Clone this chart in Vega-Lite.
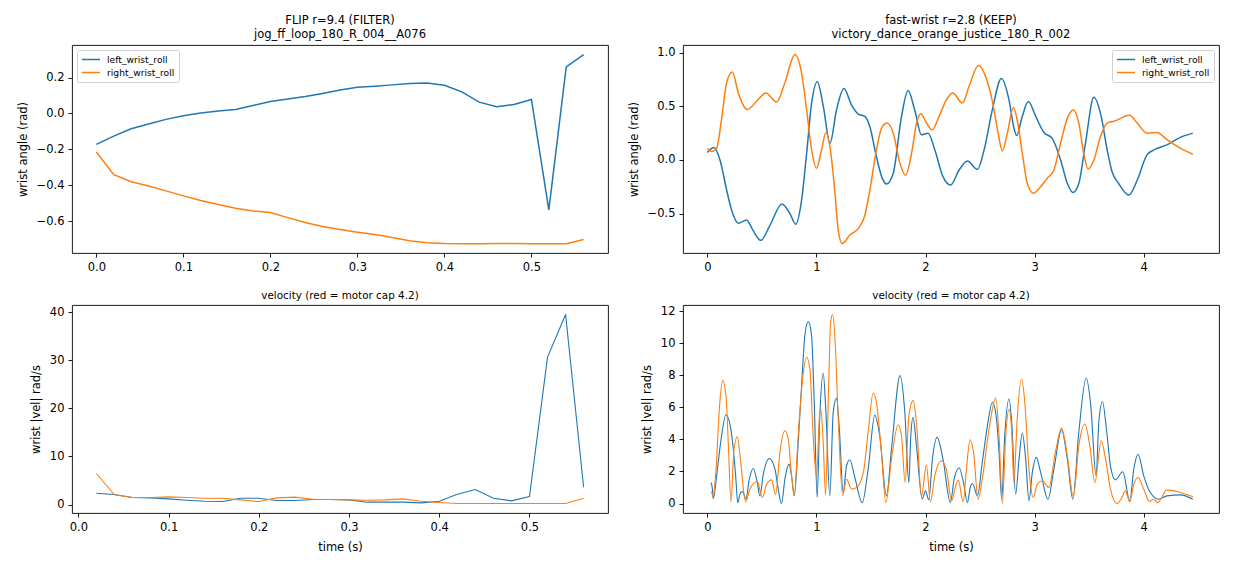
{
  "$schema": "https://vega.github.io/schema/vega-lite/v6.json",
  "background": "white",
  "padding": {"left": 16, "top": 14, "right": 14, "bottom": 10},
  "config": {
    "font": "DejaVu Sans",
    "view": {"stroke": "#000000", "strokeWidth": 0.9},
    "axis": {
      "grid": false, "domain": false,
      "tickColor": "#000000", "tickSize": 4, "tickWidth": 0.9,
      "labelColor": "#000000", "labelFontSize": 11.5, "labelPadding": 4,
      "labelFlush": false, "labelOverlap": false,
      "titleFontSize": 11.5, "titleFontWeight": "normal", "titleColor": "#000000", "titlePadding": 8
    },
    "axisX": {"titlePadding": 9},
    "title": {"fontSize": 11.5, "fontWeight": "normal", "color": "#000000", "anchor": "middle", "lineHeight": 14, "offset": 5},
    "legend": {
      "offset": 5, "padding": 4, "labelFontSize": 9.2, "labelColor": "#000000",
      "symbolType": "stroke", "symbolSize": 324, "symbolStrokeWidth": 1.7,
      "strokeColor": "#d0d0d0", "fillColor": "rgba(255,255,255,0.8)", "cornerRadius": 2,
      "rowPadding": 2, "clipHeight": 11, "labelOffset": 6, "title": null
    }
  },
  "datasets": {
    "flip_pos": [
      {"t": 0.00, "left_wrist_roll": -0.172, "right_wrist_roll": -0.215},
      {"t": 0.02, "left_wrist_roll": -0.126, "right_wrist_roll": -0.341},
      {"t": 0.04, "left_wrist_roll": -0.085, "right_wrist_roll": -0.380},
      {"t": 0.06, "left_wrist_roll": -0.059, "right_wrist_roll": -0.404},
      {"t": 0.08, "left_wrist_roll": -0.033, "right_wrist_roll": -0.431},
      {"t": 0.10, "left_wrist_roll": -0.013, "right_wrist_roll": -0.459},
      {"t": 0.12, "left_wrist_roll": 0.002, "right_wrist_roll": -0.485},
      {"t": 0.14, "left_wrist_roll": 0.013, "right_wrist_roll": -0.507},
      {"t": 0.16, "left_wrist_roll": 0.022, "right_wrist_roll": -0.528},
      {"t": 0.18, "left_wrist_roll": 0.044, "right_wrist_roll": -0.543},
      {"t": 0.20, "left_wrist_roll": 0.067, "right_wrist_roll": -0.552},
      {"t": 0.22, "left_wrist_roll": 0.081, "right_wrist_roll": -0.580},
      {"t": 0.24, "left_wrist_roll": 0.094, "right_wrist_roll": -0.607},
      {"t": 0.26, "left_wrist_roll": 0.111, "right_wrist_roll": -0.630},
      {"t": 0.28, "left_wrist_roll": 0.130, "right_wrist_roll": -0.646},
      {"t": 0.30, "left_wrist_roll": 0.146, "right_wrist_roll": -0.661},
      {"t": 0.32, "left_wrist_roll": 0.152, "right_wrist_roll": -0.674},
      {"t": 0.34, "left_wrist_roll": 0.159, "right_wrist_roll": -0.691},
      {"t": 0.36, "left_wrist_roll": 0.167, "right_wrist_roll": -0.709},
      {"t": 0.38, "left_wrist_roll": 0.169, "right_wrist_roll": -0.720},
      {"t": 0.40, "left_wrist_roll": 0.157, "right_wrist_roll": -0.724},
      {"t": 0.42, "left_wrist_roll": 0.120, "right_wrist_roll": -0.725},
      {"t": 0.44, "left_wrist_roll": 0.063, "right_wrist_roll": -0.725},
      {"t": 0.46, "left_wrist_roll": 0.037, "right_wrist_roll": -0.724},
      {"t": 0.48, "left_wrist_roll": 0.050, "right_wrist_roll": -0.724},
      {"t": 0.50, "left_wrist_roll": 0.078, "right_wrist_roll": -0.725},
      {"t": 0.52, "left_wrist_roll": -0.537, "right_wrist_roll": -0.725},
      {"t": 0.54, "left_wrist_roll": 0.259, "right_wrist_roll": -0.725},
      {"t": 0.56, "left_wrist_roll": 0.328, "right_wrist_roll": -0.702}
    ],
    "flip_vel": [
      {"t": 0.02, "left_wrist_roll": 2.36, "right_wrist_roll": 6.45},
      {"t": 0.04, "left_wrist_roll": 2.08, "right_wrist_roll": 2.01},
      {"t": 0.06, "left_wrist_roll": 1.46, "right_wrist_roll": 1.46},
      {"t": 0.08, "left_wrist_roll": 1.39, "right_wrist_roll": 1.46},
      {"t": 0.10, "left_wrist_roll": 1.18, "right_wrist_roll": 1.60},
      {"t": 0.12, "left_wrist_roll": 0.90, "right_wrist_roll": 1.46},
      {"t": 0.14, "left_wrist_roll": 0.69, "right_wrist_roll": 1.32},
      {"t": 0.16, "left_wrist_roll": 0.62, "right_wrist_roll": 1.32},
      {"t": 0.18, "left_wrist_roll": 1.32, "right_wrist_roll": 0.97},
      {"t": 0.20, "left_wrist_roll": 1.32, "right_wrist_roll": 0.62},
      {"t": 0.22, "left_wrist_roll": 0.83, "right_wrist_roll": 1.39},
      {"t": 0.24, "left_wrist_roll": 0.83, "right_wrist_roll": 1.53},
      {"t": 0.26, "left_wrist_roll": 1.04, "right_wrist_roll": 1.11},
      {"t": 0.28, "left_wrist_roll": 1.04, "right_wrist_roll": 1.04},
      {"t": 0.30, "left_wrist_roll": 0.97, "right_wrist_roll": 0.97},
      {"t": 0.32, "left_wrist_roll": 0.49, "right_wrist_roll": 0.90},
      {"t": 0.34, "left_wrist_roll": 0.49, "right_wrist_roll": 0.97},
      {"t": 0.36, "left_wrist_roll": 0.49, "right_wrist_roll": 1.18},
      {"t": 0.38, "left_wrist_roll": 0.35, "right_wrist_roll": 0.69},
      {"t": 0.40, "left_wrist_roll": 0.69, "right_wrist_roll": 0.42},
      {"t": 0.42, "left_wrist_roll": 2.15, "right_wrist_roll": 0.21},
      {"t": 0.44, "left_wrist_roll": 3.12, "right_wrist_roll": 0.21},
      {"t": 0.46, "left_wrist_roll": 1.32, "right_wrist_roll": 0.21},
      {"t": 0.48, "left_wrist_roll": 0.76, "right_wrist_roll": 0.21},
      {"t": 0.50, "left_wrist_roll": 1.66, "right_wrist_roll": 0.21},
      {"t": 0.52, "left_wrist_roll": 30.65, "right_wrist_roll": 0.21},
      {"t": 0.54, "left_wrist_roll": 39.5, "right_wrist_roll": 0.21},
      {"t": 0.56, "left_wrist_roll": 3.6, "right_wrist_roll": 1.32}
    ],
    "fast_pos": [
      {"t": 0, "joint": "left_wrist_roll", "v": 0.069},
      {"t": 0.06, "joint": "left_wrist_roll", "v": 0.116},
      {"t": 0.116, "joint": "left_wrist_roll", "v": 0.0},
      {"t": 0.177, "joint": "left_wrist_roll", "v": -0.28},
      {"t": 0.223, "joint": "left_wrist_roll", "v": -0.47},
      {"t": 0.284, "joint": "left_wrist_roll", "v": -0.59},
      {"t": 0.36, "joint": "left_wrist_roll", "v": -0.56},
      {"t": 0.42, "joint": "left_wrist_roll", "v": -0.66},
      {"t": 0.49, "joint": "left_wrist_roll", "v": -0.75},
      {"t": 0.574, "joint": "left_wrist_roll", "v": -0.61},
      {"t": 0.684, "joint": "left_wrist_roll", "v": -0.41},
      {"t": 0.757, "joint": "left_wrist_roll", "v": -0.5},
      {"t": 0.81, "joint": "left_wrist_roll", "v": -0.6},
      {"t": 0.864, "joint": "left_wrist_roll", "v": -0.375},
      {"t": 0.91, "joint": "left_wrist_roll", "v": 0.06},
      {"t": 0.956, "joint": "left_wrist_roll", "v": 0.53},
      {"t": 1.008, "joint": "left_wrist_roll", "v": 0.73},
      {"t": 1.063, "joint": "left_wrist_roll", "v": 0.5},
      {"t": 1.124, "joint": "left_wrist_roll", "v": 0.156},
      {"t": 1.185, "joint": "left_wrist_roll", "v": 0.47},
      {"t": 1.252, "joint": "left_wrist_roll", "v": 0.666},
      {"t": 1.32, "joint": "left_wrist_roll", "v": 0.516},
      {"t": 1.383, "joint": "left_wrist_roll", "v": 0.428},
      {"t": 1.444, "joint": "left_wrist_roll", "v": 0.406},
      {"t": 1.49, "joint": "left_wrist_roll", "v": 0.31},
      {"t": 1.55, "joint": "left_wrist_roll", "v": 0.03},
      {"t": 1.603, "joint": "left_wrist_roll", "v": -0.17},
      {"t": 1.643, "joint": "left_wrist_roll", "v": -0.225},
      {"t": 1.704, "joint": "left_wrist_roll", "v": -0.125},
      {"t": 1.78, "joint": "left_wrist_roll", "v": 0.406},
      {"t": 1.84, "joint": "left_wrist_roll", "v": 0.647},
      {"t": 1.9, "joint": "left_wrist_roll", "v": 0.47},
      {"t": 1.963, "joint": "left_wrist_roll", "v": 0.234},
      {"t": 2.024, "joint": "left_wrist_roll", "v": 0.25},
      {"t": 2.085, "joint": "left_wrist_roll", "v": 0.094},
      {"t": 2.16, "joint": "left_wrist_roll", "v": -0.156},
      {"t": 2.23, "joint": "left_wrist_roll", "v": -0.234},
      {"t": 2.308, "joint": "left_wrist_roll", "v": -0.094},
      {"t": 2.384, "joint": "left_wrist_roll", "v": -0.01},
      {"t": 2.476, "joint": "left_wrist_roll", "v": -0.0875},
      {"t": 2.537, "joint": "left_wrist_roll", "v": 0.094},
      {"t": 2.613, "joint": "left_wrist_roll", "v": 0.47},
      {"t": 2.695, "joint": "left_wrist_roll", "v": 0.76},
      {"t": 2.765, "joint": "left_wrist_roll", "v": 0.56},
      {"t": 2.81, "joint": "left_wrist_roll", "v": 0.3},
      {"t": 2.835, "joint": "left_wrist_roll", "v": 0.228},
      {"t": 2.887, "joint": "left_wrist_roll", "v": 0.406},
      {"t": 2.942, "joint": "left_wrist_roll", "v": 0.544},
      {"t": 3.01, "joint": "left_wrist_roll", "v": 0.406},
      {"t": 3.085, "joint": "left_wrist_roll", "v": 0.256},
      {"t": 3.16, "joint": "left_wrist_roll", "v": 0.203},
      {"t": 3.238, "joint": "left_wrist_roll", "v": 0.0},
      {"t": 3.3, "joint": "left_wrist_roll", "v": -0.219},
      {"t": 3.35, "joint": "left_wrist_roll", "v": -0.303},
      {"t": 3.405, "joint": "left_wrist_roll", "v": -0.219},
      {"t": 3.466, "joint": "left_wrist_roll", "v": 0.156},
      {"t": 3.543, "joint": "left_wrist_roll", "v": 0.584},
      {"t": 3.61, "joint": "left_wrist_roll", "v": 0.406},
      {"t": 3.665, "joint": "left_wrist_roll", "v": 0.094},
      {"t": 3.71, "joint": "left_wrist_roll", "v": -0.11},
      {"t": 3.77, "joint": "left_wrist_roll", "v": -0.22},
      {"t": 3.863, "joint": "left_wrist_roll", "v": -0.328},
      {"t": 3.94, "joint": "left_wrist_roll", "v": -0.19},
      {"t": 4.03, "joint": "left_wrist_roll", "v": 0.047},
      {"t": 4.107, "joint": "left_wrist_roll", "v": 0.1},
      {"t": 4.213, "joint": "left_wrist_roll", "v": 0.14},
      {"t": 4.335, "joint": "left_wrist_roll", "v": 0.21},
      {"t": 4.45, "joint": "left_wrist_roll", "v": 0.25},
      {"t": 0, "joint": "right_wrist_roll", "v": 0.106},
      {"t": 0.04, "joint": "right_wrist_roll", "v": 0.078},
      {"t": 0.085, "joint": "right_wrist_roll", "v": 0.11},
      {"t": 0.13, "joint": "right_wrist_roll", "v": 0.375},
      {"t": 0.177, "joint": "right_wrist_roll", "v": 0.72},
      {"t": 0.229, "joint": "right_wrist_roll", "v": 0.82},
      {"t": 0.284, "joint": "right_wrist_roll", "v": 0.625},
      {"t": 0.366, "joint": "right_wrist_roll", "v": 0.47},
      {"t": 0.452, "joint": "right_wrist_roll", "v": 0.547},
      {"t": 0.537, "joint": "right_wrist_roll", "v": 0.625},
      {"t": 0.635, "joint": "right_wrist_roll", "v": 0.54},
      {"t": 0.711, "joint": "right_wrist_roll", "v": 0.72},
      {"t": 0.803, "joint": "right_wrist_roll", "v": 0.984},
      {"t": 0.864, "joint": "right_wrist_roll", "v": 0.81},
      {"t": 0.91, "joint": "right_wrist_roll", "v": 0.47},
      {"t": 0.956, "joint": "right_wrist_roll", "v": 0.094},
      {"t": 1.0, "joint": "right_wrist_roll", "v": -0.078},
      {"t": 1.047, "joint": "right_wrist_roll", "v": 0.094},
      {"t": 1.087, "joint": "right_wrist_roll", "v": 0.256},
      {"t": 1.124, "joint": "right_wrist_roll", "v": 0.125},
      {"t": 1.17, "joint": "right_wrist_roll", "v": -0.31},
      {"t": 1.2, "joint": "right_wrist_roll", "v": -0.656},
      {"t": 1.237, "joint": "right_wrist_roll", "v": -0.78},
      {"t": 1.307, "joint": "right_wrist_roll", "v": -0.7},
      {"t": 1.383, "joint": "right_wrist_roll", "v": -0.64},
      {"t": 1.444, "joint": "right_wrist_roll", "v": -0.516},
      {"t": 1.49, "joint": "right_wrist_roll", "v": -0.28},
      {"t": 1.55, "joint": "right_wrist_roll", "v": 0.094},
      {"t": 1.597, "joint": "right_wrist_roll", "v": 0.297},
      {"t": 1.649, "joint": "right_wrist_roll", "v": 0.344},
      {"t": 1.704, "joint": "right_wrist_roll", "v": 0.25},
      {"t": 1.765, "joint": "right_wrist_roll", "v": -0.03},
      {"t": 1.817, "joint": "right_wrist_roll", "v": -0.144},
      {"t": 1.872, "joint": "right_wrist_roll", "v": 0.0625},
      {"t": 1.918, "joint": "right_wrist_roll", "v": 0.344},
      {"t": 1.957, "joint": "right_wrist_roll", "v": 0.43},
      {"t": 2.01, "joint": "right_wrist_roll", "v": 0.344},
      {"t": 2.06, "joint": "right_wrist_roll", "v": 0.28},
      {"t": 2.13, "joint": "right_wrist_roll", "v": 0.42},
      {"t": 2.19, "joint": "right_wrist_roll", "v": 0.56},
      {"t": 2.25, "joint": "right_wrist_roll", "v": 0.625},
      {"t": 2.338, "joint": "right_wrist_roll", "v": 0.53},
      {"t": 2.4, "joint": "right_wrist_roll", "v": 0.69},
      {"t": 2.485, "joint": "right_wrist_roll", "v": 0.88},
      {"t": 2.55, "joint": "right_wrist_roll", "v": 0.78},
      {"t": 2.613, "joint": "right_wrist_roll", "v": 0.547},
      {"t": 2.66, "joint": "right_wrist_roll", "v": 0.28},
      {"t": 2.704, "joint": "right_wrist_roll", "v": 0.084},
      {"t": 2.75, "joint": "right_wrist_roll", "v": 0.25},
      {"t": 2.805, "joint": "right_wrist_roll", "v": 0.49},
      {"t": 2.84, "joint": "right_wrist_roll", "v": 0.375},
      {"t": 2.887, "joint": "right_wrist_roll", "v": 0.0625},
      {"t": 2.933, "joint": "right_wrist_roll", "v": -0.22},
      {"t": 2.988, "joint": "right_wrist_roll", "v": -0.31},
      {"t": 3.055, "joint": "right_wrist_roll", "v": -0.25},
      {"t": 3.116, "joint": "right_wrist_roll", "v": -0.17},
      {"t": 3.177, "joint": "right_wrist_roll", "v": -0.094},
      {"t": 3.238, "joint": "right_wrist_roll", "v": 0.156},
      {"t": 3.3, "joint": "right_wrist_roll", "v": 0.39},
      {"t": 3.354, "joint": "right_wrist_roll", "v": 0.466},
      {"t": 3.405, "joint": "right_wrist_roll", "v": 0.344},
      {"t": 3.45, "joint": "right_wrist_roll", "v": 0.0625},
      {"t": 3.49, "joint": "right_wrist_roll", "v": -0.084},
      {"t": 3.543, "joint": "right_wrist_roll", "v": 0.0},
      {"t": 3.604, "joint": "right_wrist_roll", "v": 0.22},
      {"t": 3.665, "joint": "right_wrist_roll", "v": 0.344},
      {"t": 3.726, "joint": "right_wrist_roll", "v": 0.36},
      {"t": 3.872, "joint": "right_wrist_roll", "v": 0.416},
      {"t": 3.94, "joint": "right_wrist_roll", "v": 0.344},
      {"t": 4.03, "joint": "right_wrist_roll", "v": 0.25},
      {"t": 4.12, "joint": "right_wrist_roll", "v": 0.256},
      {"t": 4.213, "joint": "right_wrist_roll", "v": 0.19},
      {"t": 4.335, "joint": "right_wrist_roll", "v": 0.11},
      {"t": 4.45, "joint": "right_wrist_roll", "v": 0.053}
    ],
    "fast_vel": [
      {"t": 0.033, "joint": "left_wrist_roll", "v": 1.31},
      {"t": 0.045, "joint": "left_wrist_roll", "v": 1.0},
      {"t": 0.055, "joint": "left_wrist_roll", "v": 0.31},
      {"t": 0.085, "joint": "left_wrist_roll", "v": 1.73},
      {"t": 0.122, "joint": "left_wrist_roll", "v": 3.8},
      {"t": 0.171, "joint": "left_wrist_roll", "v": 5.54},
      {"t": 0.21, "joint": "left_wrist_roll", "v": 4.85},
      {"t": 0.238, "joint": "left_wrist_roll", "v": 3.4},
      {"t": 0.262, "joint": "left_wrist_roll", "v": 1.52},
      {"t": 0.278, "joint": "left_wrist_roll", "v": 0.06},
      {"t": 0.305, "joint": "left_wrist_roll", "v": 0.69},
      {"t": 0.325, "joint": "left_wrist_roll", "v": 0.73},
      {"t": 0.354, "joint": "left_wrist_roll", "v": 0.27},
      {"t": 0.385, "joint": "left_wrist_roll", "v": 1.52},
      {"t": 0.421, "joint": "left_wrist_roll", "v": 2.19},
      {"t": 0.458, "joint": "left_wrist_roll", "v": 1.31},
      {"t": 0.482, "joint": "left_wrist_roll", "v": 0.48},
      {"t": 0.513, "joint": "left_wrist_roll", "v": 1.83},
      {"t": 0.568, "joint": "left_wrist_roll", "v": 2.81},
      {"t": 0.62, "joint": "left_wrist_roll", "v": 2.15},
      {"t": 0.65, "joint": "left_wrist_roll", "v": 0.9},
      {"t": 0.68, "joint": "left_wrist_roll", "v": 0.0},
      {"t": 0.711, "joint": "left_wrist_roll", "v": 1.52},
      {"t": 0.748, "joint": "left_wrist_roll", "v": 2.46},
      {"t": 0.772, "joint": "left_wrist_roll", "v": 1.73},
      {"t": 0.797, "joint": "left_wrist_roll", "v": 0.48},
      {"t": 0.833, "joint": "left_wrist_roll", "v": 3.8},
      {"t": 0.864, "joint": "left_wrist_roll", "v": 7.35},
      {"t": 0.894, "joint": "left_wrist_roll", "v": 10.5},
      {"t": 0.925, "joint": "left_wrist_roll", "v": 11.35},
      {"t": 0.955, "joint": "left_wrist_roll", "v": 10.5},
      {"t": 0.98, "joint": "left_wrist_roll", "v": 6.3},
      {"t": 1.007, "joint": "left_wrist_roll", "v": 0.375},
      {"t": 1.03, "joint": "left_wrist_roll", "v": 5.3},
      {"t": 1.062, "joint": "left_wrist_roll", "v": 8.15},
      {"t": 1.087, "joint": "left_wrist_roll", "v": 5.7},
      {"t": 1.123, "joint": "left_wrist_roll", "v": 0.48},
      {"t": 1.154, "joint": "left_wrist_roll", "v": 5.7},
      {"t": 1.184, "joint": "left_wrist_roll", "v": 6.56},
      {"t": 1.21, "joint": "left_wrist_roll", "v": 4.65},
      {"t": 1.245, "joint": "left_wrist_roll", "v": 0.69},
      {"t": 1.276, "joint": "left_wrist_roll", "v": 2.35},
      {"t": 1.306, "joint": "left_wrist_roll", "v": 2.73},
      {"t": 1.352, "joint": "left_wrist_roll", "v": 1.63},
      {"t": 1.42, "joint": "left_wrist_roll", "v": 0.06},
      {"t": 1.474, "joint": "left_wrist_roll", "v": 2.15},
      {"t": 1.535, "joint": "left_wrist_roll", "v": 5.52},
      {"t": 1.58, "joint": "left_wrist_roll", "v": 4.23},
      {"t": 1.642, "joint": "left_wrist_roll", "v": 0.48},
      {"t": 1.688, "joint": "left_wrist_roll", "v": 3.4},
      {"t": 1.767, "joint": "left_wrist_roll", "v": 7.98},
      {"t": 1.81, "joint": "left_wrist_roll", "v": 5.7},
      {"t": 1.847, "joint": "left_wrist_roll", "v": 1.31},
      {"t": 1.865, "joint": "left_wrist_roll", "v": 4.23},
      {"t": 1.886, "joint": "left_wrist_roll", "v": 5.38},
      {"t": 1.917, "joint": "left_wrist_roll", "v": 3.6},
      {"t": 1.969, "joint": "left_wrist_roll", "v": 0.27},
      {"t": 2.0, "joint": "left_wrist_roll", "v": 0.79},
      {"t": 2.03, "joint": "left_wrist_roll", "v": 0.23},
      {"t": 2.063, "joint": "left_wrist_roll", "v": 2.77},
      {"t": 2.106, "joint": "left_wrist_roll", "v": 4.13},
      {"t": 2.16, "joint": "left_wrist_roll", "v": 2.77},
      {"t": 2.228, "joint": "left_wrist_roll", "v": 0.06},
      {"t": 2.262, "joint": "left_wrist_roll", "v": 1.52},
      {"t": 2.308, "joint": "left_wrist_roll", "v": 2.23},
      {"t": 2.348, "joint": "left_wrist_roll", "v": 1.31},
      {"t": 2.384, "joint": "left_wrist_roll", "v": 0.06},
      {"t": 2.41, "joint": "left_wrist_roll", "v": 1.0},
      {"t": 2.43, "joint": "left_wrist_roll", "v": 1.25},
      {"t": 2.476, "joint": "left_wrist_roll", "v": 0.48},
      {"t": 2.52, "joint": "left_wrist_roll", "v": 2.56},
      {"t": 2.567, "joint": "left_wrist_roll", "v": 4.85},
      {"t": 2.613, "joint": "left_wrist_roll", "v": 6.31},
      {"t": 2.643, "joint": "left_wrist_roll", "v": 5.69},
      {"t": 2.674, "joint": "left_wrist_roll", "v": 3.19},
      {"t": 2.698, "joint": "left_wrist_roll", "v": 0.27},
      {"t": 2.726, "joint": "left_wrist_roll", "v": 4.23},
      {"t": 2.765, "joint": "left_wrist_roll", "v": 6.52},
      {"t": 2.79, "joint": "left_wrist_roll", "v": 5.06},
      {"t": 2.826, "joint": "left_wrist_roll", "v": 0.58},
      {"t": 2.857, "joint": "left_wrist_roll", "v": 2.77},
      {"t": 2.887, "joint": "left_wrist_roll", "v": 4.4},
      {"t": 2.918, "joint": "left_wrist_roll", "v": 2.77},
      {"t": 2.948, "joint": "left_wrist_roll", "v": 0.17},
      {"t": 2.979, "joint": "left_wrist_roll", "v": 1.94},
      {"t": 3.015, "joint": "left_wrist_roll", "v": 2.88},
      {"t": 3.055, "joint": "left_wrist_roll", "v": 1.94},
      {"t": 3.122, "joint": "left_wrist_roll", "v": 0.27},
      {"t": 3.177, "joint": "left_wrist_roll", "v": 2.15},
      {"t": 3.247, "joint": "left_wrist_roll", "v": 4.6},
      {"t": 3.3, "joint": "left_wrist_roll", "v": 2.77},
      {"t": 3.35, "joint": "left_wrist_roll", "v": 0.27},
      {"t": 3.405, "joint": "left_wrist_roll", "v": 4.44},
      {"t": 3.473, "joint": "left_wrist_roll", "v": 7.83},
      {"t": 3.512, "joint": "left_wrist_roll", "v": 6.31},
      {"t": 3.564, "joint": "left_wrist_roll", "v": 1.73},
      {"t": 3.588, "joint": "left_wrist_roll", "v": 5.06},
      {"t": 3.622, "joint": "left_wrist_roll", "v": 6.35},
      {"t": 3.658, "joint": "left_wrist_roll", "v": 4.65},
      {"t": 3.695, "joint": "left_wrist_roll", "v": 2.35},
      {"t": 3.74, "joint": "left_wrist_roll", "v": 1.48},
      {"t": 3.808, "joint": "left_wrist_roll", "v": 1.98},
      {"t": 3.872, "joint": "left_wrist_roll", "v": 0.17},
      {"t": 3.909, "joint": "left_wrist_roll", "v": 2.15},
      {"t": 3.948, "joint": "left_wrist_roll", "v": 3.08},
      {"t": 4.0, "joint": "left_wrist_roll", "v": 1.73},
      {"t": 4.06, "joint": "left_wrist_roll", "v": 0.69},
      {"t": 4.137, "joint": "left_wrist_roll", "v": 0.27},
      {"t": 4.213, "joint": "left_wrist_roll", "v": 0.48},
      {"t": 4.335, "joint": "left_wrist_roll", "v": 0.54},
      {"t": 4.451, "joint": "left_wrist_roll", "v": 0.27},
      {"t": 0.033, "joint": "right_wrist_roll", "v": 0.73},
      {"t": 0.043, "joint": "right_wrist_roll", "v": 0.65},
      {"t": 0.05, "joint": "right_wrist_roll", "v": 0.375},
      {"t": 0.08, "joint": "right_wrist_roll", "v": 2.15},
      {"t": 0.11, "joint": "right_wrist_roll", "v": 5.9},
      {"t": 0.14, "joint": "right_wrist_roll", "v": 7.67},
      {"t": 0.171, "joint": "right_wrist_roll", "v": 6.73},
      {"t": 0.192, "joint": "right_wrist_roll", "v": 3.81},
      {"t": 0.217, "joint": "right_wrist_roll", "v": 0.1},
      {"t": 0.244, "joint": "right_wrist_roll", "v": 3.4},
      {"t": 0.275, "joint": "right_wrist_roll", "v": 4.17},
      {"t": 0.3, "joint": "right_wrist_roll", "v": 2.98},
      {"t": 0.351, "joint": "right_wrist_roll", "v": 0.1},
      {"t": 0.39, "joint": "right_wrist_roll", "v": 0.9},
      {"t": 0.458, "joint": "right_wrist_roll", "v": 1.38},
      {"t": 0.504, "joint": "right_wrist_roll", "v": 0.375},
      {"t": 0.543, "joint": "right_wrist_roll", "v": 1.21},
      {"t": 0.589, "joint": "right_wrist_roll", "v": 1.48},
      {"t": 0.626, "joint": "right_wrist_roll", "v": 0.56},
      {"t": 0.665, "joint": "right_wrist_roll", "v": 3.19},
      {"t": 0.711, "joint": "right_wrist_roll", "v": 4.54},
      {"t": 0.742, "joint": "right_wrist_roll", "v": 4.02},
      {"t": 0.772, "joint": "right_wrist_roll", "v": 1.73},
      {"t": 0.797, "joint": "right_wrist_roll", "v": 0.52},
      {"t": 0.833, "joint": "right_wrist_roll", "v": 4.23},
      {"t": 0.873, "joint": "right_wrist_roll", "v": 7.77},
      {"t": 0.91, "joint": "right_wrist_roll", "v": 9.13},
      {"t": 0.94, "joint": "right_wrist_roll", "v": 8.4},
      {"t": 0.97, "joint": "right_wrist_roll", "v": 4.23},
      {"t": 1.0, "joint": "right_wrist_roll", "v": 1.73},
      {"t": 1.031, "joint": "right_wrist_roll", "v": 5.69},
      {"t": 1.04, "joint": "right_wrist_roll", "v": 5.9},
      {"t": 1.062, "joint": "right_wrist_roll", "v": 3.81},
      {"t": 1.084, "joint": "right_wrist_roll", "v": 0.52},
      {"t": 1.108, "joint": "right_wrist_roll", "v": 6.31},
      {"t": 1.13, "joint": "right_wrist_roll", "v": 11.3},
      {"t": 1.148, "joint": "right_wrist_roll", "v": 11.8},
      {"t": 1.17, "joint": "right_wrist_roll", "v": 10.3},
      {"t": 1.2, "joint": "right_wrist_roll", "v": 5.27},
      {"t": 1.24, "joint": "right_wrist_roll", "v": 0.48},
      {"t": 1.276, "joint": "right_wrist_roll", "v": 1.52},
      {"t": 1.322, "joint": "right_wrist_roll", "v": 0.9},
      {"t": 1.368, "joint": "right_wrist_roll", "v": 1.0},
      {"t": 1.43, "joint": "right_wrist_roll", "v": 1.94},
      {"t": 1.474, "joint": "right_wrist_roll", "v": 4.44},
      {"t": 1.52, "joint": "right_wrist_roll", "v": 6.9},
      {"t": 1.55, "joint": "right_wrist_roll", "v": 6.31},
      {"t": 1.596, "joint": "right_wrist_roll", "v": 3.19},
      {"t": 1.636, "joint": "right_wrist_roll", "v": 0.06},
      {"t": 1.688, "joint": "right_wrist_roll", "v": 2.77},
      {"t": 1.749, "joint": "right_wrist_roll", "v": 4.92},
      {"t": 1.78, "joint": "right_wrist_roll", "v": 4.23},
      {"t": 1.813, "joint": "right_wrist_roll", "v": 1.31},
      {"t": 1.847, "joint": "right_wrist_roll", "v": 5.48},
      {"t": 1.886, "joint": "right_wrist_roll", "v": 6.42},
      {"t": 1.917, "joint": "right_wrist_roll", "v": 5.06},
      {"t": 1.963, "joint": "right_wrist_roll", "v": 0.48},
      {"t": 2.008, "joint": "right_wrist_roll", "v": 2.4},
      {"t": 2.045, "joint": "right_wrist_roll", "v": 0.1},
      {"t": 2.085, "joint": "right_wrist_roll", "v": 1.73},
      {"t": 2.146, "joint": "right_wrist_roll", "v": 2.67},
      {"t": 2.19, "joint": "right_wrist_roll", "v": 2.15},
      {"t": 2.24, "joint": "right_wrist_roll", "v": 0.17},
      {"t": 2.268, "joint": "right_wrist_roll", "v": 0.9},
      {"t": 2.3, "joint": "right_wrist_roll", "v": 1.46},
      {"t": 2.345, "joint": "right_wrist_roll", "v": 0.1},
      {"t": 2.375, "joint": "right_wrist_roll", "v": 2.15},
      {"t": 2.408, "joint": "right_wrist_roll", "v": 3.98},
      {"t": 2.44, "joint": "right_wrist_roll", "v": 3.19},
      {"t": 2.482, "joint": "right_wrist_roll", "v": 0.27},
      {"t": 2.52, "joint": "right_wrist_roll", "v": 1.52},
      {"t": 2.582, "joint": "right_wrist_roll", "v": 4.65},
      {"t": 2.643, "joint": "right_wrist_roll", "v": 6.58},
      {"t": 2.674, "joint": "right_wrist_roll", "v": 4.23},
      {"t": 2.704, "joint": "right_wrist_roll", "v": 0.0},
      {"t": 2.735, "joint": "right_wrist_roll", "v": 4.23},
      {"t": 2.765, "joint": "right_wrist_roll", "v": 5.9},
      {"t": 2.79, "joint": "right_wrist_roll", "v": 4.44},
      {"t": 2.81, "joint": "right_wrist_roll", "v": 1.31},
      {"t": 2.84, "joint": "right_wrist_roll", "v": 5.27},
      {"t": 2.88, "joint": "right_wrist_roll", "v": 7.77},
      {"t": 2.91, "joint": "right_wrist_roll", "v": 6.31},
      {"t": 2.948, "joint": "right_wrist_roll", "v": 2.15},
      {"t": 2.988, "joint": "right_wrist_roll", "v": 0.375},
      {"t": 3.024, "joint": "right_wrist_roll", "v": 1.21},
      {"t": 3.07, "joint": "right_wrist_roll", "v": 1.42},
      {"t": 3.13, "joint": "right_wrist_roll", "v": 1.0},
      {"t": 3.19, "joint": "right_wrist_roll", "v": 3.19},
      {"t": 3.247, "joint": "right_wrist_roll", "v": 4.71},
      {"t": 3.3, "joint": "right_wrist_roll", "v": 2.98},
      {"t": 3.354, "joint": "right_wrist_roll", "v": 0.42},
      {"t": 3.405, "joint": "right_wrist_roll", "v": 3.6},
      {"t": 3.46, "joint": "right_wrist_roll", "v": 4.96},
      {"t": 3.506, "joint": "right_wrist_roll", "v": 3.6},
      {"t": 3.552, "joint": "right_wrist_roll", "v": 1.31},
      {"t": 3.61, "joint": "right_wrist_roll", "v": 3.92},
      {"t": 3.65, "joint": "right_wrist_roll", "v": 2.77},
      {"t": 3.695, "joint": "right_wrist_roll", "v": 0.9},
      {"t": 3.756, "joint": "right_wrist_roll", "v": 0.0},
      {"t": 3.8, "joint": "right_wrist_roll", "v": 0.375},
      {"t": 3.832, "joint": "right_wrist_roll", "v": 0.79},
      {"t": 3.872, "joint": "right_wrist_roll", "v": 0.1},
      {"t": 3.909, "joint": "right_wrist_roll", "v": 1.21},
      {"t": 3.948, "joint": "right_wrist_roll", "v": 1.63},
      {"t": 4.0, "joint": "right_wrist_roll", "v": 0.9},
      {"t": 4.052, "joint": "right_wrist_roll", "v": 0.125},
      {"t": 4.09, "joint": "right_wrist_roll", "v": 0.27},
      {"t": 4.128, "joint": "right_wrist_roll", "v": 0.06},
      {"t": 4.213, "joint": "right_wrist_roll", "v": 0.85},
      {"t": 4.335, "joint": "right_wrist_roll", "v": 0.69},
      {"t": 4.451, "joint": "right_wrist_roll", "v": 0.42}
    ]
  },
  "columns": 2,
  "spacing": {"row": 52, "column": 75},
  "bounds": "flush",
  "resolve": {"scale": {"color": "independent"}, "legend": {"color": "independent"}},
  "concat": [
    {
      "width": 536, "height": 208,
      "title": {"text": ["FLIP r=9.4 (FILTER)", "jog_ff_loop_180_R_004__A076"]},
      "data": {"name": "flip_pos"},
      "transform": [{"fold": ["left_wrist_roll", "right_wrist_roll"], "as": ["joint", "v"]}],
      "mark": {"type": "line", "strokeWidth": 1.5},
      "encoding": {
        "x": {"field": "t", "type": "quantitative", "scale": {"domain": [-0.028, 0.588], "nice": false, "zero": false},
              "axis": {"title": null, "values": [0, 0.1, 0.2, 0.3, 0.4, 0.5], "format": ".1f"}},
        "y": {"field": "v", "type": "quantitative", "scale": {"domain": [-0.777, 0.381], "nice": false, "zero": false},
              "axis": {"title": "wrist angle (rad)", "values": [-0.6, -0.4, -0.2, 0, 0.2], "format": ".1f"}},
        "color": {"field": "joint", "type": "nominal",
                  "scale": {"domain": ["left_wrist_roll", "right_wrist_roll"], "range": ["#1f77b4", "#ff7f0e"]},
                  "legend": {"orient": "top-left"}}
      }
    },
    {
      "width": 536, "height": 208,
      "title": {"text": ["fast-wrist r=2.8 (KEEP)", "victory_dance_orange_justice_180_R_002"]},
      "data": {"name": "fast_pos"},
      "mark": {"type": "line", "strokeWidth": 1.5, "interpolate": "monotone"},
      "encoding": {
        "x": {"field": "t", "type": "quantitative", "scale": {"domain": [-0.223, 4.69], "nice": false, "zero": false},
              "axis": {"title": null, "values": [0, 1, 2, 3, 4], "format": "d"}},
        "y": {"field": "v", "type": "quantitative", "scale": {"domain": [-0.868, 1.072], "nice": false, "zero": false},
              "axis": {"title": "wrist angle (rad)", "values": [-0.5, 0, 0.5, 1], "format": ".1f"}},
        "color": {"field": "joint", "type": "nominal",
                  "scale": {"domain": ["left_wrist_roll", "right_wrist_roll"], "range": ["#1f77b4", "#ff7f0e"]},
                  "legend": {"orient": "top-right"}}
      }
    },
    {
      "width": 536, "height": 208,
      "title": {"text": "velocity (red = motor cap 4.2)", "fontSize": 10.4, "offset": 4},
      "layer": [
        {
          "data": {"name": "flip_vel"},
          "transform": [{"fold": ["left_wrist_roll", "right_wrist_roll"], "as": ["joint", "v"]}],
          "mark": {"type": "line", "strokeWidth": 1.1},
          "encoding": {
            "x": {"field": "t", "type": "quantitative", "scale": {"domain": [-0.007, 0.587], "nice": false, "zero": false},
                  "axis": {"title": "time (s)", "values": [0, 0.1, 0.2, 0.3, 0.4, 0.5], "format": ".1f"}},
            "y": {"field": "v", "type": "quantitative", "scale": {"domain": [-1.76, 41.47], "nice": false, "zero": false},
                  "axis": {"title": "wrist |vel| rad/s", "values": [0, 10, 20, 30, 40], "format": "d"}},
            "color": {"field": "joint", "type": "nominal",
                      "scale": {"domain": ["left_wrist_roll", "right_wrist_roll"], "range": ["#1f77b4", "#ff7f0e"]},
                      "legend": null}
          }
        },
        {
          "mark": {"type": "rule", "color": "#ff0000", "strokeWidth": 0.9, "strokeDash": [4, 2]},
          "encoding": {"y": {"datum": 4.2, "type": "quantitative",
                             "axis": {"title": "wrist |vel| rad/s", "values": [0, 10, 20, 30, 40], "format": "d"}}}
        }
      ]
    },
    {
      "width": 536, "height": 208,
      "title": {"text": "velocity (red = motor cap 4.2)", "fontSize": 10.4, "offset": 4},
      "layer": [
        {
          "data": {"name": "fast_vel"},
          "mark": {"type": "line", "strokeWidth": 1.1, "interpolate": "monotone"},
          "encoding": {
            "x": {"field": "t", "type": "quantitative", "scale": {"domain": [-0.223, 4.69], "nice": false, "zero": false},
                  "axis": {"title": "time (s)", "values": [0, 1, 2, 3, 4], "format": "d"}},
            "y": {"field": "v", "type": "quantitative", "scale": {"domain": [-0.59, 12.39], "nice": false, "zero": false},
                  "axis": {"title": "wrist |vel| rad/s", "values": [0, 2, 4, 6, 8, 10, 12], "format": "d", "tickCount": 7}},
            "color": {"field": "joint", "type": "nominal",
                      "scale": {"domain": ["left_wrist_roll", "right_wrist_roll"], "range": ["#1f77b4", "#ff7f0e"]},
                      "legend": null}
          }
        },
        {
          "mark": {"type": "rule", "color": "#ff0000", "strokeWidth": 0.9, "strokeDash": [4, 2]},
          "encoding": {"y": {"datum": 4.2, "type": "quantitative",
                             "axis": {"title": "wrist |vel| rad/s", "values": [0, 2, 4, 6, 8, 10, 12], "format": "d", "tickCount": 7}}}
        }
      ]
    }
  ]
}
